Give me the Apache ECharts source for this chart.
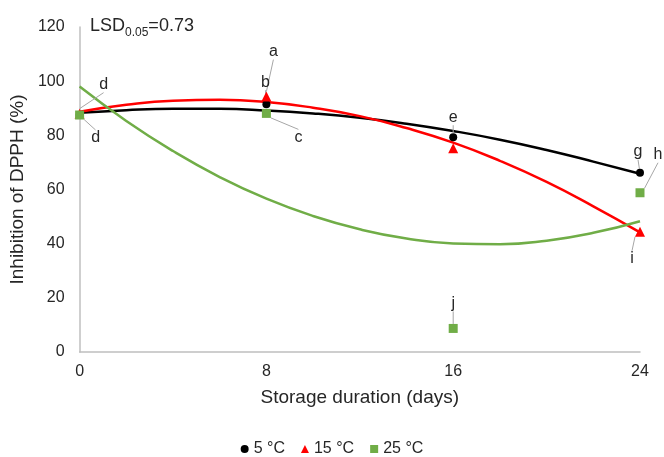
<!DOCTYPE html>
<html>
<head>
<meta charset="utf-8">
<script src="https://cdn.jsdelivr.net/npm/echarts@6/dist/echarts.min.js"></script>
<style>html,body{margin:0;padding:0;background:#fff}#c{width:664px;height:457px}</style>
</head>
<body>
<div id="c"></div>
<script>
// Measured points
const days = [0, 8, 16, 24];
const v5 = [87.5, 91.5, 79.3, 66.2];
const v15 = [88.0, 94.3, 75.2, 44.4];
const v25 = [87.5, 88.1, 8.7, 58.8];
// Letter labels
const lab5 = ['', 'b', 'e', 'g'];
const lab15 = ['d', 'a', '', 'i'];
const lab25 = ['d', 'c', 'j', 'h'];
// Trendlines
const trendDays = [0, 2, 4, 6, 8, 10, 12, 14, 16, 18, 20, 22, 24];
const trend5 = [88.3, 89.3, 89.8, 89.8, 89.2, 88.1, 86.5, 84.3, 81.6, 78.4, 74.6, 70.3, 65.8];
const trend15 = [88.7, 91.3, 92.8, 93.1, 92.3, 90.2, 87.1, 82.7, 77.3, 70.6, 62.8, 53.8, 44.2];
const trend25 = [98.0, 85.3, 74.2, 64.6, 56.6, 50.2, 45.3, 41.9, 40.1, 39.8, 41.1, 44.0, 48.3];
const xTicks = [0, 8, 16, 24];
const yTicks = [0, 20, 40, 60, 80, 100, 120];

const FONT = 'Liberation Sans, Arial, sans-serif';
const TXT = '#262626';
const off5 = [[0, 0], [-1, -22], [0, -20], [-2, -21]];
const off15 = [[24, -29], [7, -45], [0, 0], [-8, 27]];
const off25 = [[16, 23], [32, 24], [0, -25], [18, -38]];

function pts(xs, ys) { return xs.map((x, i) => [x, ys[i]]); }

function scatter(name, vals, labs, offs, symbol, size, color) {
  return {
    type: 'scatter', name: name, data: pts(days, vals),
    symbol: symbol, symbolSize: size, itemStyle: { color: color, opacity: 1 }, z: 5,
    label: {
      show: true, position: 'inside', color: TXT, fontSize: 16, fontFamily: FONT,
      textBorderWidth: 0,
      formatter: p => labs[p.dataIndex]
    },
    labelLine: { show: true, lineStyle: { color: '#a6a6a6', width: 1 } },
    labelLayout: p => ({ dx: offs[p.dataIndex][0], dy: offs[p.dataIndex][1] })
  };
}
function trend(vals, color) {
  return {
    type: 'line', name: 'trend', data: pts(trendDays, vals), smooth: true,
    showSymbol: false, silent: true, z: 2,
    lineStyle: { color: color, width: 2.5 }
  };
}

const chart = echarts.init(document.getElementById('c'));
chart.setOption({
  animation: false,
  grid: { left: 79, right: 24, top: 27, bottom: 105 },
  xAxis: {
    type: 'value', min: xTicks[0], max: xTicks[xTicks.length - 1], interval: 8,
    name: 'Storage duration (days)', nameLocation: 'middle', nameGap: 36,
    nameTextStyle: { color: TXT, fontSize: 19, fontFamily: FONT },
    axisLine: { show: true, lineStyle: { color: '#bfbfbf', width: 1.5 } },
    axisTick: { show: false }, splitLine: { show: false },
    axisLabel: { color: TXT, fontSize: 16, fontFamily: FONT, margin: 12 }
  },
  yAxis: {
    type: 'value', min: yTicks[0], max: yTicks[yTicks.length - 1], interval: 20,
    name: 'Inhibition of DPPH (%)', nameLocation: 'middle', nameGap: 48,
    nameTextStyle: { color: TXT, fontSize: 19, fontFamily: FONT },
    axisLine: { show: true, lineStyle: { color: '#bfbfbf', width: 1.5 } },
    axisTick: { show: false }, splitLine: { show: false },
    axisLabel: { color: TXT, fontSize: 16, fontFamily: FONT, margin: 15 }
  },
  legend: {
    data: [{ name: '5 °C', icon: 'circle' }, { name: '15 °C', icon: 'triangle' }, { name: '25 °C', icon: 'rect' }],
    left: 'center', top: 436, itemWidth: 8, itemHeight: 8, itemGap: 16,
    textStyle: { color: TXT, fontSize: 16, fontFamily: FONT }
  },
  graphic: [{
    type: 'text', left: 90, top: 17,
    style: {
      text: '{a|LSD}{b|0.05}{a|=0.73}', fontFamily: FONT,
      rich: {
        a: { fontSize: 18, fill: TXT, fontFamily: FONT, verticalAlign: 'bottom', lineHeight: 20 },
        b: { fontSize: 12, fill: TXT, fontFamily: FONT, verticalAlign: 'bottom', lineHeight: 16, padding: [0, 0, -4, 0] }
      }
    }
  }],
  series: [
    trend(trend5, '#000000'),
    trend(trend15, '#ff0000'),
    trend(trend25, '#70ad47'),
    scatter('5 °C', v5, lab5, off5, 'circle', 8, '#000000'),
    scatter('15 °C', v15, lab15, off15, 'triangle', 10, '#ff0000'),
    scatter('25 °C', v25, lab25, off25, 'rect', 9, '#70ad47')
  ]
});
</script>
</body>
</html>
